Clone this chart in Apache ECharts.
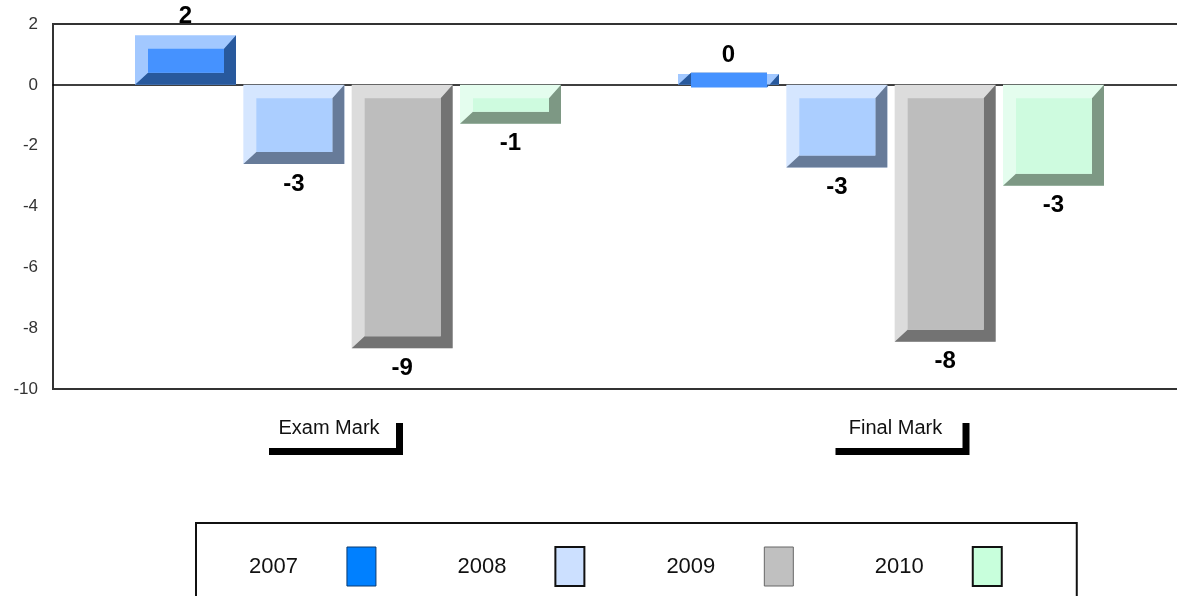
<!DOCTYPE html>
<html><head><meta charset="utf-8">
<script src="https://cdn.jsdelivr.net/npm/echarts@6/dist/echarts.min.js"></script>
<style>html,body{margin:0;padding:0;background:#fff}#c{width:1177px;height:596px}</style>
</head><body><div id="c"></div>
<script>
// ---- data ----
const categories = ['Exam Mark', 'Final Mark'];
const years = ['2007', '2008', '2009', '2010'];
const v2007 = [1.63, 0.36];
const v2008 = [-2.6, -2.72];
const v2009 = [-8.66, -8.45];
const v2010 = [-1.28, -3.32];
const yMin = -10, yMax = 2, yStep = 2;

// ---- styles ----
const FONT = 'Arial, "Liberation Sans", sans-serif';
const lightC = ['#A2C8FF', '#D5E6FF', '#DCDCDC', '#E4FDEE'];
const faceC  = ['#4592FF', '#ABCEFF', '#BDBDBD', '#CEFBDF'];
const darkC  = ['#28599D', '#677B99', '#737373', '#7D9884'];
const legC   = ['#0080FF', '#CCE0FF', '#C0C0C0', '#C8FFDC'];
const legB   = ['#0A3A70', '#111111', '#666666', '#111111'];
const seriesVals = [v2007, v2008, v2009, v2010];

function renderBar(params, api) {
  const s = params.seriesIndex;
  const cat = api.value(0), val = api.value(1);
  const band = api.size([1, 0])[0];
  const c = api.coord([cat, 0]);
  const e = api.coord([cat, val]);
  const barW = band * 0.186, pitch = band * 0.1995;
  const groupW = pitch * 3 + barW;
  const x0 = c[0] - groupW / 2 + s * pitch, x1 = x0 + barW;
  const top = Math.min(c[1], e[1]), bot = Math.max(c[1], e[1]);
  const bl = 13, bt = 13.5, br = 12, bb = 12;
  const fy1 = top + bt, fy2 = bot - bb;
  const labelY = val >= 0 ? top - 19 : bot + 20;
  return {
    type: 'group',
    children: [
      { type: 'rect', shape: { x: x0, y: top, width: barW, height: bot - top }, style: { fill: lightC[s] } },
      { type: 'polygon', shape: { points: [[x0, bot], [x1, bot], [x1, top], [x1 - br, top + bt], [x1 - br, bot - bb], [x0 + bl, bot - bb]] }, style: { fill: darkC[s] } },
      { type: 'rect', shape: { x: x0 + bl, y: Math.min(fy1, fy2), width: barW - bl - br, height: Math.abs(fy2 - fy1) }, style: { fill: faceC[s] } },
      { type: 'text', x: (x0 + x1) / 2, y: labelY, style: { text: String(Math.round(val)), fill: '#000', font: 'bold 24px ' + FONT, align: 'center', verticalAlign: 'middle' } }
    ]
  };
}

const series = years.map((y, i) => ({
  name: y,
  type: 'custom',
  xAxisIndex: 2,
  yAxisIndex: 1,
  itemStyle: { color: legC[i] },
  renderItem: renderBar,
  data: categories.map((_, k) => [k, seriesVals[i][k]])
}));

const chart = echarts.init(document.getElementById('c'));
chart.setOption({
  animation: false,
  backgroundColor: '#fff',
  grid: [
    { left: 53, top: 24, width: 1134, height: 365, outerBoundsMode: 'none', containLabel: false, show: true, borderColor: '#333', borderWidth: 2, backgroundColor: 'transparent' },
    { left: 76.5, top: 24, width: 1086, height: 365, outerBoundsMode: 'none', containLabel: false },
    { left: 45.75, top: 24, width: 1133, height: 365, outerBoundsMode: 'none', containLabel: false }
  ],
  xAxis: [
    { type: 'category', gridIndex: 0, data: categories, position: 'bottom',
      axisLine: { show: true, onZero: false, lineStyle: { color: '#333', width: 2 } },
      axisTick: { show: false }, axisLabel: { show: false }, splitLine: { show: false } },
    { type: 'category', gridIndex: 0, data: categories, position: 'top',
      axisLine: { show: true, onZero: true, lineStyle: { color: '#000', width: 1.5 } },
      axisTick: { show: false }, axisLabel: { show: false }, splitLine: { show: false } },
    { type: 'category', gridIndex: 1, data: categories, show: false },
    { type: 'category', gridIndex: 2, data: categories, position: 'bottom',
      axisLine: { show: false, onZero: false }, axisTick: { show: false }, splitLine: { show: false },
      axisLabel: {
        show: true, interval: 0, margin: 27, fontFamily: FONT, fontSize: 20, lineHeight: 20, color: '#111',
        width: 108, align: 'center', overflow: 'none',
        backgroundColor: '#fff', padding: [2, 13, 10, 13],
        shadowColor: '#000', shadowBlur: 0, shadowOffsetX: 7, shadowOffsetY: 7
      } }
  ],
  yAxis: [
    { type: 'value', gridIndex: 0, min: yMin, max: yMax, interval: yStep,
      axisLine: { show: true, lineStyle: { color: '#333', width: 2 } },
      axisTick: { show: false }, splitLine: { show: false },
      axisLabel: { margin: 15, fontFamily: FONT, fontSize: 17, color: '#333' } },
    { type: 'value', gridIndex: 1, min: yMin, max: yMax, interval: yStep, show: false, splitLine: { show: false } },
    { type: 'value', gridIndex: 2, min: yMin, max: yMax, interval: yStep, show: false, splitLine: { show: false } }
  ],
  legend: {
    left: 196, top: 523, orient: 'horizontal', align: 'right',
    selectedMode: false,
    itemWidth: 29, itemHeight: 39, itemGap: 81,
    padding: [23, 74, 40, 53],
    borderColor: '#111', borderWidth: 2, backgroundColor: '#fff',
    textStyle: { fontFamily: FONT, fontSize: 22, color: '#111', padding: [0, 44, 0, 0] },
    data: years.map((y, i) => ({ name: y, icon: 'rect', itemStyle: { color: legC[i], borderColor: legB[i], borderWidth: i % 2 ? 2 : 1 } }))
  },
  series: series
});
</script>
</body></html>
